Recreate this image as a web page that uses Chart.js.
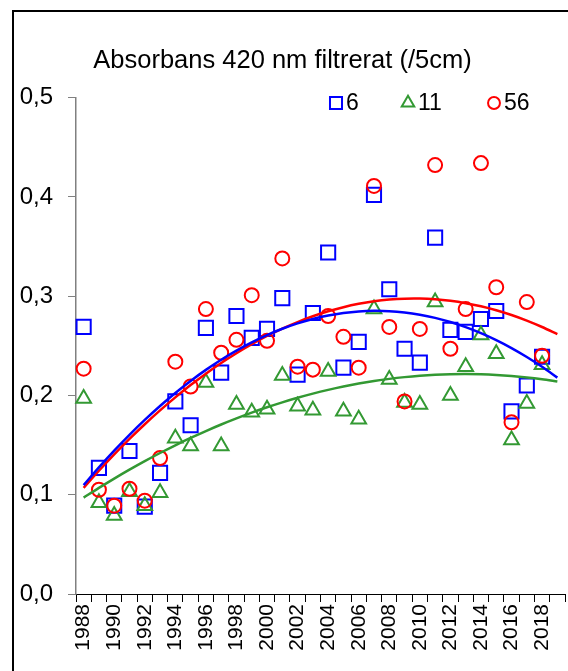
<!DOCTYPE html>
<html>
<head>
<meta charset="utf-8">
<script src="https://cdn.jsdelivr.net/npm/chart.js@4.4.1/dist/chart.umd.min.js"></script>
<style>
  html, body { margin: 0; padding: 0; background: #fff; overflow: hidden; }
  #frame { position: absolute; left: 12px; top: 10px; width: 640px; height: 740px; border: 2px solid #000; }
  #wrap { position: absolute; left: 0; top: 0; width: 568px; height: 671px; }
</style>
</head>
<body>
<div id="frame"></div>
<div id="wrap"><canvas id="chart" width="568" height="671"></canvas></div>
<script>
// categories (2019 has no samples, the trend lines run through it)
const years = [1988, 1989, 1990, 1991, 1992, 1993, 1994, 1995, 1996, 1997,
  1998, 1999, 2000, 2001, 2002, 2003, 2004, 2005, 2006, 2007,
  2008, 2009, 2010, 2011, 2012, 2013, 2014, 2015, 2016, 2017,
  2018, 2019]

// station 6
const site6 = [0.269, 0.127, 0.089, 0.144, 0.088, 0.122, 0.194, 0.170, 0.268, 0.223,
  0.280, 0.258, 0.267, 0.298, 0.221, 0.283, 0.344, 0.228, 0.254, 0.402,
  0.307, 0.247, 0.233, 0.359, 0.266, 0.264, 0.277, 0.285, 0.184, 0.210,
  0.239, null]
// station 11
const site11 = [0.197, 0.092, 0.079, 0.103, 0.089, 0.102, 0.157, 0.149, 0.213, 0.149,
  0.191, 0.183, 0.186, 0.220, 0.189, 0.185, 0.224, 0.184, 0.176, 0.287,
  0.216, 0.193, 0.191, 0.294, 0.200, 0.229, 0.261, 0.242, 0.155, 0.192,
  0.231, null]
// station 56
const site56 = [0.227, 0.105, 0.089, 0.106, 0.094, 0.137, 0.234, 0.209, 0.287, 0.243,
  0.256, 0.301, 0.255, 0.338, 0.229, 0.226, 0.280, 0.259, 0.228, 0.411,
  0.269, 0.194, 0.267, 0.432, 0.247, 0.287, 0.434, 0.309, 0.173, 0.294,
  0.240, null]

const yTicks = [0, 0.1, 0.2, 0.3, 0.4, 0.5]

const FONT = "'Liberation Sans', Arial, sans-serif"
const BLUE = '#0000ff'
const GREEN = '#339933'
const RED = '#ff0000'

/* 2nd order polynomial trend, least squares (like the spreadsheet trendline) */
const polyTrend = (values) => {
  const s = [0, 0, 0, 0, 0]
  const t = [0, 0, 0]
  values.forEach((v, i) => {
    if (v === null) return
    const x = years[i] - 2003
    let p = 1
    for (let k = 0; k < 5; k++) {
      s[k] += p
      if (k < 3) t[k] += p * v
      p *= x
    }
  })
  const m = [[s[0], s[1], s[2], t[0]], [s[1], s[2], s[3], t[1]], [s[2], s[3], s[4], t[2]]]
  for (let c = 0; c < 3; c++) {
    for (let r = c + 1; r < 3; r++) {
      const f = m[r][c] / m[c][c]
      for (let k = c; k < 4; k++) m[r][k] -= f * m[c][k]
    }
  }
  const coef = [0, 0, 0]
  for (let r = 2; r >= 0; r--) {
    let acc = m[r][3]
    for (let k = r + 1; k < 3; k++) acc -= m[r][k] * coef[k]
    coef[r] = acc / m[r][r]
  }
  return years.map((y) => {
    const x = y - 2003
    return coef[0] + coef[1] * x + coef[2] * x * x
  })
}

const trendLine = (values, color) => ({
  type: 'line',
  label: 'trend',
  data: polyTrend(values),
  borderColor: color,
  borderWidth: 2.5,
  pointRadius: 0,
  tension: 0.3,
  fill: false,
  order: 0
})

const markers = (label, values, color, style, radius, order) => ({
  type: 'line',
  label,
  data: values,
  showLine: false,
  pointStyle: style,
  pointRadius: radius,
  pointBorderWidth: 2,
  pointBorderColor: color,
  pointBackgroundColor: 'rgba(0,0,0,0)',
  borderColor: color,
  order
})

// legend drawn inside the plot, top right
const legendPos = [[336, 103], [408, 103], [494, 103]]
const insideLegend = {
  id: 'insideLegend',
  afterDraw (chart) {
    const ctx = chart.ctx
    const sets = chart.data.datasets.filter((d) => d.label !== 'trend')
    ctx.save()
    sets.forEach((ds, i) => {
      const [x, y] = legendPos[i]
      ctx.strokeStyle = ds.pointBorderColor
      ctx.fillStyle = 'rgba(0,0,0,0)'
      ctx.lineWidth = 2
      Chart.helpers.drawPoint(ctx, {
        pointStyle: ds.pointStyle,
        rotation: 0,
        radius: ds.pointRadius * 0.85,
        borderWidth: 2
      }, x, y)
      ctx.fillStyle = '#000'
      ctx.font = '23px ' + FONT
      ctx.textAlign = 'left'
      ctx.textBaseline = 'middle'
      ctx.fillText(ds.label, x + 10, y + 1)
    })
    ctx.restore()
  }
}

new Chart(document.getElementById('chart'), {
  type: 'line',
  data: {
    labels: years.map(String),
    datasets: [
      trendLine(site6, BLUE),
      trendLine(site56, RED),
      trendLine(site11, GREEN),
      markers('6', site6, BLUE, 'rect', 10, 3),
      markers('11', site11, GREEN, 'triangle', 8.5, 2),
      markers('56', site56, RED, 'circle', 7, 1)
    ]
  },
  options: {
    responsive: false,
    animation: false,
    events: [],
    layout: { autoPadding: false, padding: { left: 0, right: 3, top: 0, bottom: 0 } },
    plugins: {
      legend: { display: false },
      tooltip: { enabled: false },
      title: {
        display: true,
        text: 'Absorbans 420 nm filtrerat (/5cm)',
        color: '#000',
        font: { family: FONT, size: 25.5, weight: 'normal' },
        padding: { top: 46, bottom: 21 }
      }
    },
    scales: {
      x: {
        offset: true,
        grid: {
          offset: true,
          drawOnChartArea: false,
          drawTicks: true,
          tickLength: 8,
          color: '#000'
        },
        border: { display: true, color: '#000', width: 1 },
        ticks: {
          autoSkip: false,
          maxRotation: 90,
          minRotation: 90,
          padding: 2,
          color: '#000',
          font: { family: FONT, size: 21 },
          callback: (v, i) => (i % 2 === 0 ? years[i] : '')
        },
        afterFit: (scale) => {
          scale.height = 77
          scale.paddingLeft = 0
          scale.paddingRight = 0
        }
      },
      y: {
        min: yTicks[0],
        max: yTicks[yTicks.length - 1],
        afterBuildTicks: (scale) => { scale.ticks = yTicks.map((v) => ({ value: v })) },
        grid: {
          drawOnChartArea: false,
          drawTicks: true,
          tickLength: 8,
          color: '#808080'
        },
        border: { display: true, color: '#808080', width: 1.5 },
        ticks: {
          padding: 15,
          color: '#000',
          font: { family: FONT, size: 24 },
          callback: (v) => v.toFixed(1).replace('.', ',')
        },
        afterFit: (scale) => { scale.width = 76 }
      }
    }
  },
  plugins: [insideLegend]
})
</script>
</body>
</html>
